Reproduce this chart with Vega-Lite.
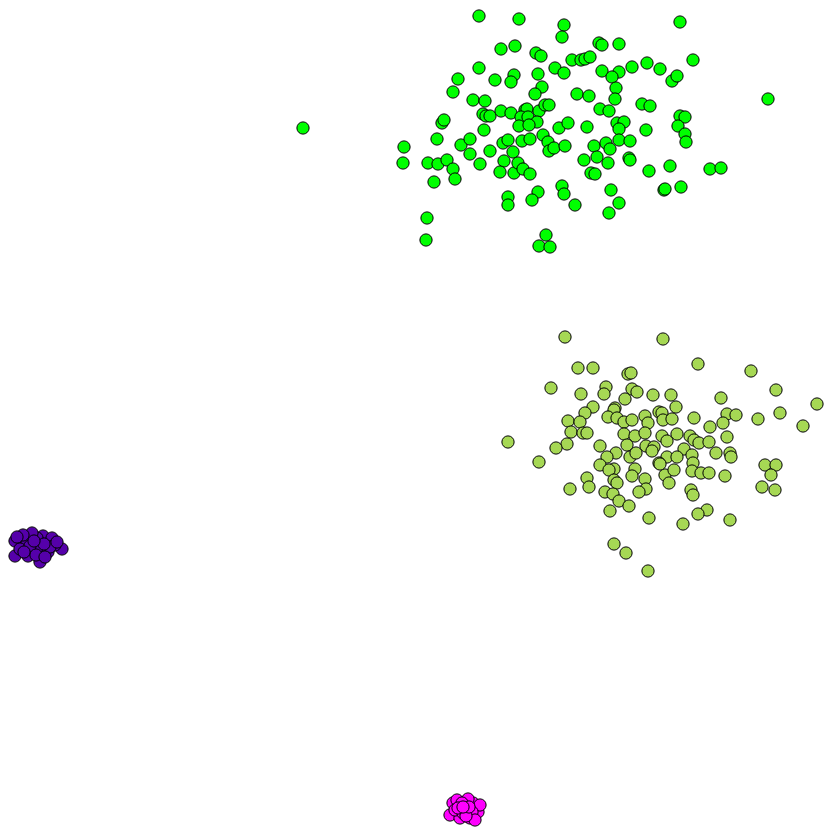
{
"$schema":"https://vega.github.io/schema/vega-lite/v6.json",
"width":832,"height":832,"padding":0,
"autosize":{"type":"fit","contains":"padding"},
"config":{"view":{"stroke":null}},
"data":{"values":[
{"g":"G","x":479,"y":16},{"g":"G","x":519,"y":19},{"g":"G","x":564,"y":25},{"g":"G","x":562,"y":37},{"g":"G","x":680,"y":22},{"g":"G","x":501,"y":49},{"g":"G","x":515,"y":46},{"g":"G","x":536,"y":53},{"g":"G","x":541,"y":56},{"g":"G","x":599,"y":43},{"g":"G","x":602,"y":45},{"g":"G","x":619,"y":44},{"g":"G","x":572,"y":60},{"g":"G","x":581,"y":60},{"g":"G","x":585,"y":59},{"g":"G","x":590,"y":57},{"g":"G","x":693,"y":60},{"g":"G","x":479,"y":68},{"g":"G","x":458,"y":79},{"g":"G","x":453,"y":92},{"g":"G","x":495,"y":80},{"g":"G","x":514,"y":75},{"g":"G","x":511,"y":82},{"g":"G","x":538,"y":74},{"g":"G","x":555,"y":68},{"g":"G","x":564,"y":73},{"g":"G","x":542,"y":87},{"g":"G","x":535,"y":94},{"g":"G","x":577,"y":94},{"g":"G","x":589,"y":96},{"g":"G","x":602,"y":71},{"g":"G","x":619,"y":72},{"g":"G","x":612,"y":77},{"g":"G","x":632,"y":67},{"g":"G","x":647,"y":63},{"g":"G","x":660,"y":69},{"g":"G","x":672,"y":81},{"g":"G","x":677,"y":76},{"g":"G","x":768,"y":99},{"g":"G","x":616,"y":88},{"g":"G","x":615,"y":99},{"g":"G","x":600,"y":109},{"g":"G","x":609,"y":111},{"g":"G","x":642,"y":104},{"g":"G","x":650,"y":106},{"g":"G","x":680,"y":116},{"g":"G","x":685,"y":117},{"g":"G","x":678,"y":126},{"g":"G","x":473,"y":100},{"g":"G","x":485,"y":101},{"g":"G","x":483,"y":114},{"g":"G","x":486,"y":116},{"g":"G","x":490,"y":116},{"g":"G","x":501,"y":111},{"g":"G","x":511,"y":113},{"g":"G","x":525,"y":110},{"g":"G","x":527,"y":109},{"g":"G","x":539,"y":111},{"g":"G","x":545,"y":105},{"g":"G","x":549,"y":105},{"g":"G","x":521,"y":117},{"g":"G","x":528,"y":117},{"g":"G","x":537,"y":122},{"g":"G","x":442,"y":123},{"g":"G","x":444,"y":120},{"g":"G","x":484,"y":130},{"g":"G","x":519,"y":126},{"g":"G","x":529,"y":125},{"g":"G","x":559,"y":128},{"g":"G","x":568,"y":123},{"g":"G","x":587,"y":127},{"g":"G","x":617,"y":123},{"g":"G","x":624,"y":122},{"g":"G","x":619,"y":129},{"g":"G","x":646,"y":130},{"g":"G","x":685,"y":134},{"g":"G","x":686,"y":142},{"g":"G","x":303,"y":128},{"g":"G","x":404,"y":147},{"g":"G","x":403,"y":163},{"g":"G","x":437,"y":139},{"g":"G","x":428,"y":163},{"g":"G","x":438,"y":164},{"g":"G","x":447,"y":160},{"g":"G","x":453,"y":169},{"g":"G","x":455,"y":179},{"g":"G","x":434,"y":182},{"g":"G","x":461,"y":145},{"g":"G","x":470,"y":139},{"g":"G","x":470,"y":154},{"g":"G","x":480,"y":164},{"g":"G","x":490,"y":151},{"g":"G","x":503,"y":143},{"g":"G","x":508,"y":140},{"g":"G","x":513,"y":152},{"g":"G","x":504,"y":161},{"g":"G","x":500,"y":172},{"g":"G","x":514,"y":173},{"g":"G","x":518,"y":163},{"g":"G","x":523,"y":169},{"g":"G","x":530,"y":174},{"g":"G","x":522,"y":141},{"g":"G","x":530,"y":139},{"g":"G","x":543,"y":135},{"g":"G","x":548,"y":142},{"g":"G","x":549,"y":151},{"g":"G","x":554,"y":148},{"g":"G","x":565,"y":146},{"g":"G","x":594,"y":146},{"g":"G","x":606,"y":143},{"g":"G","x":610,"y":149},{"g":"G","x":619,"y":140},{"g":"G","x":630,"y":141},{"g":"G","x":584,"y":160},{"g":"G","x":597,"y":157},{"g":"G","x":608,"y":163},{"g":"G","x":591,"y":173},{"g":"G","x":595,"y":174},{"g":"G","x":629,"y":158},{"g":"G","x":630,"y":160},{"g":"G","x":649,"y":171},{"g":"G","x":670,"y":166},{"g":"G","x":710,"y":169},{"g":"G","x":721,"y":168},{"g":"G","x":664,"y":190},{"g":"G","x":665,"y":189},{"g":"G","x":681,"y":187},{"g":"G","x":611,"y":190},{"g":"G","x":619,"y":203},{"g":"G","x":609,"y":213},{"g":"G","x":508,"y":197},{"g":"G","x":508,"y":205},{"g":"G","x":538,"y":192},{"g":"G","x":532,"y":200},{"g":"G","x":562,"y":186},{"g":"G","x":564,"y":194},{"g":"G","x":575,"y":205},{"g":"G","x":427,"y":218},{"g":"G","x":426,"y":240},{"g":"G","x":546,"y":235},{"g":"G","x":539,"y":246},{"g":"G","x":550,"y":247},
{"g":"Y","x":565,"y":337},{"g":"Y","x":663,"y":339},{"g":"Y","x":578,"y":368},{"g":"Y","x":593,"y":368},{"g":"Y","x":628,"y":374},{"g":"Y","x":631,"y":373},{"g":"Y","x":698,"y":364},{"g":"Y","x":751,"y":371},{"g":"Y","x":551,"y":388},{"g":"Y","x":581,"y":394},{"g":"Y","x":606,"y":387},{"g":"Y","x":604,"y":394},{"g":"Y","x":632,"y":389},{"g":"Y","x":637,"y":392},{"g":"Y","x":625,"y":399},{"g":"Y","x":653,"y":395},{"g":"Y","x":671,"y":395},{"g":"Y","x":721,"y":398},{"g":"Y","x":776,"y":390},{"g":"Y","x":593,"y":407},{"g":"Y","x":585,"y":413},{"g":"Y","x":615,"y":408},{"g":"Y","x":614,"y":410},{"g":"Y","x":676,"y":407},{"g":"Y","x":817,"y":404},{"g":"Y","x":780,"y":413},{"g":"Y","x":727,"y":414},{"g":"Y","x":736,"y":415},{"g":"Y","x":758,"y":419},{"g":"Y","x":694,"y":418},{"g":"Y","x":803,"y":426},{"g":"Y","x":723,"y":423},{"g":"Y","x":710,"y":427},{"g":"Y","x":568,"y":421},{"g":"Y","x":580,"y":422},{"g":"Y","x":571,"y":432},{"g":"Y","x":583,"y":433},{"g":"Y","x":587,"y":433},{"g":"Y","x":567,"y":444},{"g":"Y","x":556,"y":448},{"g":"Y","x":508,"y":442},{"g":"Y","x":608,"y":417},{"g":"Y","x":617,"y":418},{"g":"Y","x":624,"y":422},{"g":"Y","x":632,"y":420},{"g":"Y","x":645,"y":416},{"g":"Y","x":648,"y":423},{"g":"Y","x":659,"y":412},{"g":"Y","x":662,"y":413},{"g":"Y","x":663,"y":420},{"g":"Y","x":672,"y":419},{"g":"Y","x":624,"y":434},{"g":"Y","x":635,"y":436},{"g":"Y","x":645,"y":433},{"g":"Y","x":662,"y":436},{"g":"Y","x":677,"y":434},{"g":"Y","x":690,"y":436},{"g":"Y","x":667,"y":441},{"g":"Y","x":694,"y":440},{"g":"Y","x":699,"y":443},{"g":"Y","x":709,"y":442},{"g":"Y","x":727,"y":437},{"g":"Y","x":600,"y":446},{"g":"Y","x":627,"y":445},{"g":"Y","x":646,"y":446},{"g":"Y","x":654,"y":447},{"g":"Y","x":684,"y":449},{"g":"Y","x":616,"y":453},{"g":"Y","x":607,"y":457},{"g":"Y","x":630,"y":457},{"g":"Y","x":636,"y":453},{"g":"Y","x":652,"y":451},{"g":"Y","x":667,"y":457},{"g":"Y","x":677,"y":457},{"g":"Y","x":659,"y":463},{"g":"Y","x":692,"y":455},{"g":"Y","x":693,"y":463},{"g":"Y","x":716,"y":453},{"g":"Y","x":730,"y":453},{"g":"Y","x":731,"y":457},{"g":"Y","x":539,"y":462},{"g":"Y","x":600,"y":465},{"g":"Y","x":614,"y":469},{"g":"Y","x":609,"y":470},{"g":"Y","x":635,"y":469},{"g":"Y","x":632,"y":476},{"g":"Y","x":645,"y":479},{"g":"Y","x":587,"y":478},{"g":"Y","x":589,"y":487},{"g":"Y","x":614,"y":480},{"g":"Y","x":617,"y":483},{"g":"Y","x":570,"y":489},{"g":"Y","x":605,"y":492},{"g":"Y","x":613,"y":494},{"g":"Y","x":619,"y":501},{"g":"Y","x":629,"y":506},{"g":"Y","x":646,"y":489},{"g":"Y","x":639,"y":492},{"g":"Y","x":610,"y":511},{"g":"Y","x":649,"y":518},{"g":"Y","x":614,"y":544},{"g":"Y","x":626,"y":553},{"g":"Y","x":648,"y":571},{"g":"Y","x":665,"y":475},{"g":"Y","x":669,"y":483},{"g":"Y","x":660,"y":464},{"g":"Y","x":674,"y":470},{"g":"Y","x":692,"y":471},{"g":"Y","x":701,"y":473},{"g":"Y","x":709,"y":473},{"g":"Y","x":725,"y":476},{"g":"Y","x":765,"y":465},{"g":"Y","x":776,"y":465},{"g":"Y","x":771,"y":475},{"g":"Y","x":762,"y":487},{"g":"Y","x":775,"y":490},{"g":"Y","x":691,"y":490},{"g":"Y","x":693,"y":495},{"g":"Y","x":707,"y":510},{"g":"Y","x":698,"y":514},{"g":"Y","x":683,"y":524},{"g":"Y","x":730,"y":520},
{"g":"P","x":15,"y":541},{"g":"P","x":27,"y":542},{"g":"P","x":43,"y":536},{"g":"P","x":52,"y":538},{"g":"P","x":62,"y":549},{"g":"P","x":15,"y":556},{"g":"P","x":28,"y":556},{"g":"P","x":40,"y":562},{"g":"P","x":27,"y":543},{"g":"P","x":33,"y":549},{"g":"P","x":40,"y":550},{"g":"P","x":48,"y":552},{"g":"P","x":55,"y":545},{"g":"P","x":20,"y":549},{"g":"P","x":37,"y":538},{"g":"P","x":50,"y":547},{"g":"P","x":32,"y":533},{"g":"P","x":23,"y":535},{"g":"P","x":17,"y":537},{"g":"P","x":30,"y":546},{"g":"P","x":44,"y":544},{"g":"P","x":36,"y":555},{"g":"P","x":24,"y":552},{"g":"P","x":57,"y":542},{"g":"P","x":34,"y":541},{"g":"P","x":45,"y":557},
{"g":"M","x":453,"y":803},{"g":"M","x":473,"y":803},{"g":"M","x":450,"y":815},{"g":"M","x":460,"y":818},{"g":"M","x":470,"y":818},{"g":"M","x":478,"y":812},{"g":"M","x":480,"y":805},{"g":"M","x":457,"y":800},{"g":"M","x":468,"y":799},{"g":"M","x":455,"y":810},{"g":"M","x":472,"y":812},{"g":"M","x":463,"y":813},{"g":"M","x":475,"y":820},{"g":"M","x":462,"y":803},{"g":"M","x":466,"y":816},{"g":"M","x":458,"y":808},{"g":"M","x":469,"y":807},{"g":"M","x":463,"y":807}
]},
"mark":{"type":"point","shape":"circle","filled":true,"size":150,"stroke":"black","strokeWidth":1,"opacity":1},
"encoding":{
"x":{"field":"x","type":"quantitative","scale":{"domain":[0,832],"nice":false,"zero":false},"axis":null},
"y":{"field":"y","type":"quantitative","scale":{"domain":[832,0],"nice":false,"zero":false},"axis":null},
"color":{"field":"g","type":"nominal","scale":{"domain":["G","Y","P","M"],"range":["#00ff00","#a6d854","#5500aa","#ff00ff"]},"legend":null}
}
}
